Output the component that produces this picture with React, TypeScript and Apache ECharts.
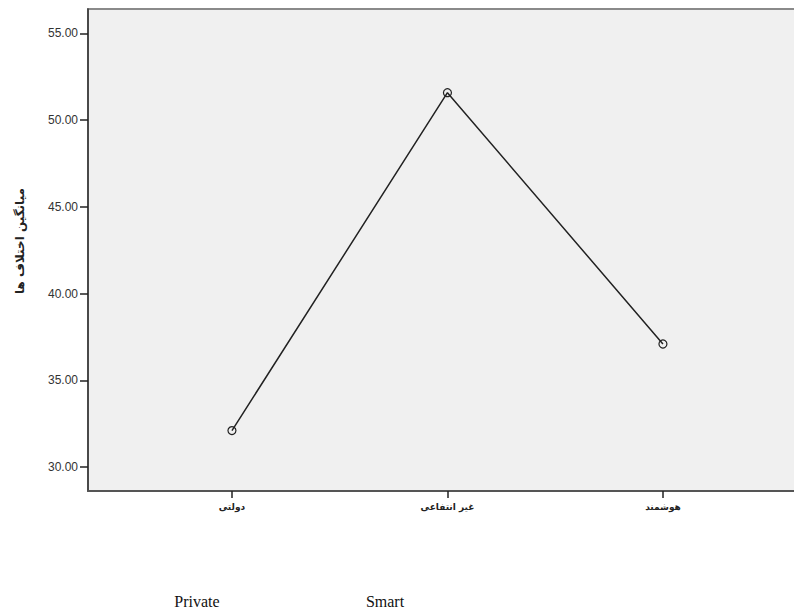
import React, { useEffect, useRef } from "react";
import * as echarts from "echarts";

const categories = ["دولتی", "غیر انتفاعی", "هوشمند"];
const meanValues = [32.11, 51.58, 37.1];
const yTicks = [30, 35, 40, 45, 50, 55];
const yTitle = "میانگین اختلاف ها";
const footerTexts = ["Private", "Smart"];

export default function App() {
  const ref = useRef<HTMLDivElement>(null);
  useEffect(() => {
    if (!ref.current) return;
    const chart = echarts.init(ref.current, null, { renderer: "svg" });
    const idx = categories.map((_, i) => i);
    chart.setOption({
      animation: false,
      backgroundColor: "#ffffff",
      grid: {
        left: 88,
        top: 9,
        right: -20,
        bottom: 123,
        containLabel: false,
        outerBoundsMode: "none",
        show: true,
        backgroundColor: "#f0f0f0",
        borderColor: "#8a8a8a",
        borderWidth: 2,
      },
      xAxis: {
        type: "value",
        min: -0.668,
        max: 2.701,
        splitLine: { show: false },
        axisLine: { show: true, onZero: false, lineStyle: { color: "#555", width: 2 } },
        axisTick: { show: true, customValues: idx, length: 7, lineStyle: { color: "#222", width: 1.5 } },
        axisLabel: {
          customValues: idx,
          formatter: (v: number) => categories[Math.round(v)] ?? "",
          fontFamily: "DejaVu Sans",
          fontSize: 9,
          fontWeight: "bold",
          color: "#222",
          margin: 11,
        },
      },
      yAxis: {
        type: "value",
        min: 28.63,
        max: 56.4,
        splitLine: { show: false },
        axisLine: { show: true, onZero: false, lineStyle: { color: "#333", width: 1.5 } },
        axisTick: { show: true, customValues: yTicks, length: 8, lineStyle: { color: "#222", width: 1.5 } },
        axisLabel: {
          customValues: yTicks,
          formatter: (v: number) => v.toFixed(2),
          fontFamily: "Liberation Sans",
          fontSize: 12,
          color: "#333",
          margin: 10,
        },
      },
      series: [
        {
          type: "line",
          data: meanValues.map((v, i) => [i, v]),
          symbol: "circle",
          symbolSize: 8,
          lineStyle: { color: "#222", width: 1.5 },
          itemStyle: { color: "transparent", borderColor: "#222", borderWidth: 1.2 },
        },
      ],
      graphic: [
        {
          type: "text",
          x: 20,
          y: 241,
          rotation: Math.PI / 2,
          style: {
            text: yTitle,
            fontFamily: "DejaVu Sans",
            fontSize: 12,
            fontWeight: "bold",
            fill: "#222",
            align: "center",
            verticalAlign: "middle",
          },
        },
        {
          type: "text",
          x: 197,
          y: 601,
          style: {
            text: footerTexts[0],
            fontFamily: "Liberation Serif",
            fontSize: 16,
            fill: "#111",
            align: "center",
            verticalAlign: "middle",
          },
        },
        {
          type: "text",
          x: 385,
          y: 601,
          style: {
            text: footerTexts[1],
            fontFamily: "Liberation Serif",
            fontSize: 16,
            fill: "#111",
            align: "center",
            verticalAlign: "middle",
          },
        },
      ],
    });
    return () => chart.dispose();
  }, []);
  return (
    <div
      ref={ref}
      style={{ position: "fixed", left: 0, top: 0, width: 794, height: 614, background: "#fff" }}
    />
  );
}
